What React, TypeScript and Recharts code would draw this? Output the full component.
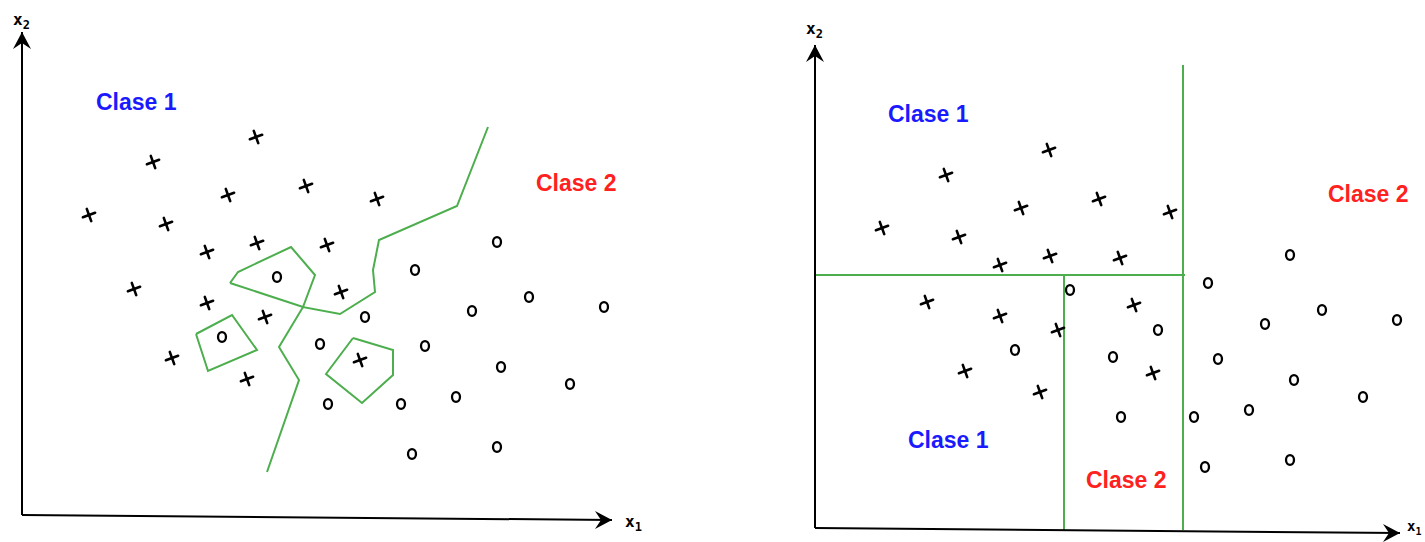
import React from "react";
import { ScatterChart, Scatter, XAxis, YAxis } from "recharts";

// Shared sample (x1, x2) for both panels
const classOne = [
  { x1: 234, x2: 378 }, { x1: 131, x2: 353 }, { x1: 206, x2: 320 }, { x1: 284, x2: 329 },
  { x1: 355, x2: 316 }, { x1: 67, x2: 300 }, { x1: 144, x2: 291 }, { x1: 185, x2: 263 },
  { x1: 235, x2: 272 }, { x1: 305, x2: 270 }, { x1: 112, x2: 226 }, { x1: 185, x2: 212 },
  { x1: 243, x2: 198 }, { x1: 319, x2: 223 }, { x1: 150, x2: 157 }, { x1: 225, x2: 136 },
  { x1: 338, x2: 155 },
];

const classTwo = [
  { x1: 255, x2: 238 }, { x1: 200, x2: 178 }, { x1: 343, x2: 198 }, { x1: 298, x2: 171 },
  { x1: 393, x2: 245 }, { x1: 475, x2: 273 }, { x1: 507, x2: 218 }, { x1: 450, x2: 204 },
  { x1: 582, x2: 208 }, { x1: 403, x2: 169 }, { x1: 479, x2: 148 }, { x1: 306, x2: 111 },
  { x1: 379, x2: 111 }, { x1: 434, x2: 118 }, { x1: 548, x2: 131 }, { x1: 390, x2: 61 },
  { x1: 475, x2: 68 },
];

// Left panel: nearest-neighbour style boundary and islands
const boundary = [
  { x1: 245, x2: 43 }, { x1: 277, x2: 135 }, { x1: 257, x2: 168 }, { x1: 281, x2: 208 },
  { x1: 318, x2: 201 }, { x1: 353, x2: 223 }, { x1: 351, x2: 245 }, { x1: 357, x2: 275 },
  { x1: 435, x2: 309 }, { x1: 466, x2: 388 },
];
const islandA = [
  { x1: 208, x2: 232 }, { x1: 216, x2: 243 }, { x1: 269, x2: 268 }, { x1: 293, x2: 240 },
  { x1: 281, x2: 208 }, { x1: 208, x2: 232 },
];
const islandB = [
  { x1: 174, x2: 181 }, { x1: 210, x2: 200 }, { x1: 235, x2: 165 }, { x1: 186, x2: 144 },
  { x1: 174, x2: 181 },
];
const islandC = [
  { x1: 331, x2: 177 }, { x1: 371, x2: 165 }, { x1: 371, x2: 140 }, { x1: 340, x2: 112 },
  { x1: 304, x2: 141 }, { x1: 331, x2: 177 },
];

// Right panel: axis-parallel splits
const splitV1 = [{ x1: 368, x2: 463 }, { x1: 368, x2: -2 }];
const splitH = [{ x1: 0, x2: 253 }, { x1: 370, x2: 253 }];
const splitV2 = [{ x1: 249, x2: 253 }, { x1: 249, x2: -2 }];

const leftTexts = [
  { x1: 74, x2: 405, text: "Clase 1", color: "#1a1aff" },
  { x1: 514, x2: 324, text: "Clase 2", color: "#ff2020" },
];
const rightTexts = [
  { x1: 73, x2: 406, text: "Clase 1", color: "#1a1aff" },
  { x1: 513, x2: 326, text: "Clase 2", color: "#ff2020" },
  { x1: 93, x2: 80, text: "Clase 1", color: "#1a1aff" },
  { x1: 271, x2: 40, text: "Clase 2", color: "#ff2020" },
];

const GREEN = "#4cae4c";

const Cross = (props: any) => {
  const { cx, cy } = props;
  if (cx == null || cy == null) return <g />;
  return (
    <g transform={`translate(${cx},${cy}) rotate(-20)`} stroke="#000" strokeWidth={2.6} strokeLinecap="round">
      <line x1={-6.5} y1={0} x2={6.5} y2={0} />
      <line x1={0} y1={-6.5} x2={0} y2={6.5} />
    </g>
  );
};

const Ring = (props: any) => {
  const { cx, cy } = props;
  if (cx == null || cy == null) return <g />;
  return <ellipse cx={cx} cy={cy} rx={4} ry={4.8} fill="none" stroke="#000" strokeWidth={2.3} />;
};

const Nothing = () => <g />;

const ArrowTip = (props: any) => {
  const { cx, cy, payload } = props;
  if (cx == null || !payload || !payload.arrow) return <g />;
  const rot = payload.arrow === "up" ? -90 : 0;
  return (
    <path
      transform={`translate(${cx},${cy}) rotate(${rot})`}
      d="M0,0 L-17,-9 L-11,0 L-17,9 Z"
      fill="#000"
    />
  );
};

const AxisLabel = (props: any) => {
  const { cx, cy, payload } = props;
  if (cx == null || !payload) return <g />;
  return (
    <text x={cx} y={cy} fontFamily="DejaVu Sans Mono" fontWeight="bold" fontSize={payload.size || 16} fill="#000">
      {payload.text}
      {payload.sub && (
        <tspan dy={4} fontSize={(payload.size || 16) - 4}>
          {payload.sub}
        </tspan>
      )}
    </text>
  );
};

const ClassLabel = (props: any) => {
  const { cx, cy, payload } = props;
  if (cx == null || !payload) return <g />;
  return (
    <text x={cx} y={cy} fontFamily="Liberation Sans, Arial" fontWeight="bold" fontSize={23} fill={payload.color}>
      {payload.text}
    </text>
  );
};

function Panel({
  width,
  xDomain,
  yDomain,
  xAxisEnd,
  axisLabels,
  texts,
  lines,
}: {
  width: number;
  xDomain: [number, number];
  yDomain: [number, number];
  xAxisEnd: number;
  axisLabels: any[];
  texts: any[];
  lines: any[][];
}) {
  const yAxisData = [{ x1: 0, x2: 0 }, { x1: 0, x2: 483, arrow: "up" }];
  const xAxisData = [{ x1: 0, x2: 0 }, { x1: xAxisEnd, x2: -5, arrow: "right" }];
  return (
    <ScatterChart width={width} height={542} margin={{ top: 0, right: 0, bottom: 0, left: 0 }}>
      <XAxis type="number" dataKey="x1" domain={xDomain} hide allowDataOverflow />
      <YAxis type="number" dataKey="x2" domain={yDomain} hide allowDataOverflow />
      {lines.map((d, i) => (
        <Scatter
          key={i}
          data={d}
          line={{ stroke: GREEN, strokeWidth: 2 }}
          shape={<Nothing />}
          isAnimationActive={false}
        />
      ))}
      <Scatter data={yAxisData} line={{ stroke: "#000", strokeWidth: 2 }} shape={<ArrowTip />} isAnimationActive={false} />
      <Scatter data={xAxisData} line={{ stroke: "#000", strokeWidth: 2 }} shape={<ArrowTip />} isAnimationActive={false} />
      <Scatter data={classOne} shape={<Cross />} isAnimationActive={false} />
      <Scatter data={classTwo} shape={<Ring />} isAnimationActive={false} />
      <Scatter data={texts} shape={<ClassLabel />} isAnimationActive={false} />
      <Scatter data={axisLabels} shape={<AxisLabel />} isAnimationActive={false} />
    </ScatterChart>
  );
}

export default function App() {
  return (
    <div style={{ position: "absolute", left: 0, top: 0, width: 1425, height: 542, display: "flex", background: "#fff", overflow: "hidden" }}>
      <Panel
        width={712}
        xDomain={[-22, 690]}
        yDomain={[-27, 515]}
        xAxisEnd={590}
        axisLabels={[
          { x1: -9, x2: 490, text: "x", sub: "2" },
          { x1: 603, x2: -12, text: "x", sub: "1" },
        ]}
        texts={leftTexts}
        lines={[boundary, islandA, islandB, islandC]}
      />
      <Panel
        width={713}
        xDomain={[-103, 610]}
        yDomain={[-14, 528]}
        xAxisEnd={585}
        axisLabels={[
          { x1: -9, x2: 494, text: "x", sub: "2" },
          { x1: 592, x2: -3, text: "x", sub: "1", size: 14 },
        ]}
        texts={rightTexts}
        lines={[splitV1, splitH, splitV2]}
      />
    </div>
  );
}
